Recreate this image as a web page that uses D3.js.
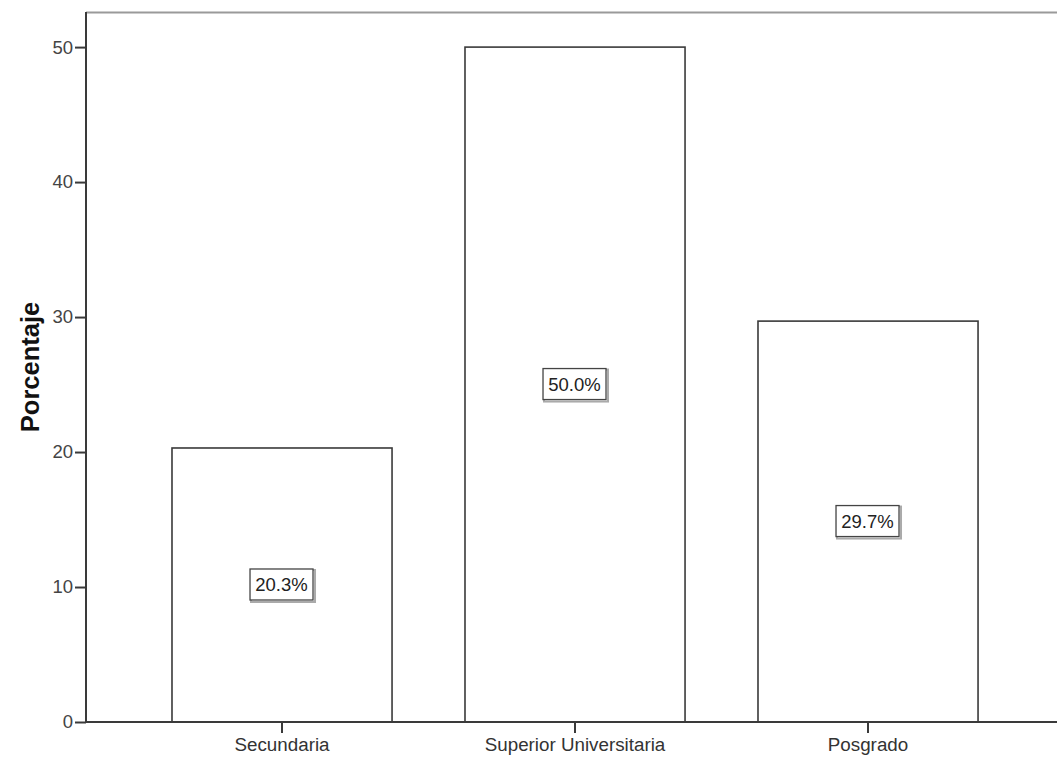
<!DOCTYPE html>
<html><head><meta charset="utf-8">
<script src="https://cdn.jsdelivr.net/npm/d3@7"></script>
<style>body{margin:0;background:#fff}svg{display:block}text{font-family:Arial,"Liberation Sans",sans-serif}</style>
</head><body>
<svg id="c" width="1057" height="758"></svg>
<script>
const categories = ["Secundaria", "Superior Universitaria", "Posgrado"];
const values = [20.3, 50.0, 29.7];
const labels = ["20.3%", "50.0%", "29.7%"];
const yTicks = [0, 10, 20, 30, 40, 50];
const yTitle = "Porcentaje";

(function () {
const svg = d3.select("#c");
const pLeft = 86, pTop = 12, pBottom = 722;
const y = d3.scaleLinear().domain([0, 52.6]).range([pBottom, pTop]);
const pi = 0.249, po = 0.2935, step = 293;
const pRight = pLeft + step * (categories.length - pi + 2 * po);
const x = d3.scaleBand().domain(categories).range([pLeft, pRight]).paddingInner(pi).paddingOuter(po);

// top frame line
svg.append("line").attr("x1", pLeft).attr("x2", 1057).attr("y1", pTop + 0.5).attr("y2", pTop + 0.5)
  .attr("stroke", "#9a9a9a").attr("stroke-width", 2);

// bars
svg.selectAll("rect.bar").data(values).enter().append("rect").attr("class", "bar")
  .attr("x", (d, i) => x(categories[i]))
  .attr("y", d => y(d))
  .attr("width", x.bandwidth())
  .attr("height", d => pBottom - y(d))
  .attr("fill", "#fff").attr("stroke", "#3a3a3a").attr("stroke-width", 1.6);

// y axis
const ya = svg.append("g").attr("transform", `translate(${pLeft},0)`)
  .call(d3.axisLeft(y).tickValues(yTicks).tickSize(11).tickPadding(2).tickFormat(d3.format("d")));
ya.select(".domain").attr("stroke", "#3a3a3a").attr("stroke-width", 2).attr("d", `M0,${pTop}V${pBottom}`);
ya.selectAll(".tick line").attr("stroke", "#3a3a3a").attr("stroke-width", 2);
ya.selectAll(".tick text").attr("font-size", 18.5).attr("fill", "#444").attr("font-family", "Arial, Liberation Sans, sans-serif");

// x axis
const xa = svg.append("g").attr("transform", `translate(0,${pBottom})`)
  .call(d3.axisBottom(x).tickSize(11).tickPadding(5));
xa.select(".domain").attr("stroke", "#3a3a3a").attr("stroke-width", 2).attr("d", `M${pLeft},0H1057`);
xa.selectAll(".tick line").attr("stroke", "#3a3a3a").attr("stroke-width", 2);
xa.selectAll(".tick text").attr("font-size", 18.8).attr("fill", "#333").attr("font-family", "Arial, Liberation Sans, sans-serif");

// y title
svg.append("text").attr("transform", `translate(39,367) rotate(-90)`)
  .attr("text-anchor", "middle").attr("font-weight", "bold").attr("font-size", 25.5).attr("fill", "#111")
  .text(yTitle);

// value labels
const lg = svg.selectAll("g.lab").data(values).enter().append("g").attr("class", "lab")
  .attr("transform", (d, i) => `translate(${x(categories[i]) + x.bandwidth() / 2},${y(d / 2)})`);
lg.append("rect").attr("x", -31).attr("y", -15).attr("width", 64).attr("height", 32)
  .attr("fill", "none").attr("stroke", "#aaa").attr("stroke-width", 2);
lg.append("rect").attr("x", -32).attr("y", -16).attr("width", 63).attr("height", 31)
  .attr("fill", "#fff").attr("stroke", "#444").attr("stroke-width", 1.3);
lg.append("text").attr("text-anchor", "middle").attr("y", 6.5).attr("x", -0.5)
  .attr("font-size", 18.5).attr("fill", "#222").text((d, i) => labels[i]);
})();
</script>
</body></html>
